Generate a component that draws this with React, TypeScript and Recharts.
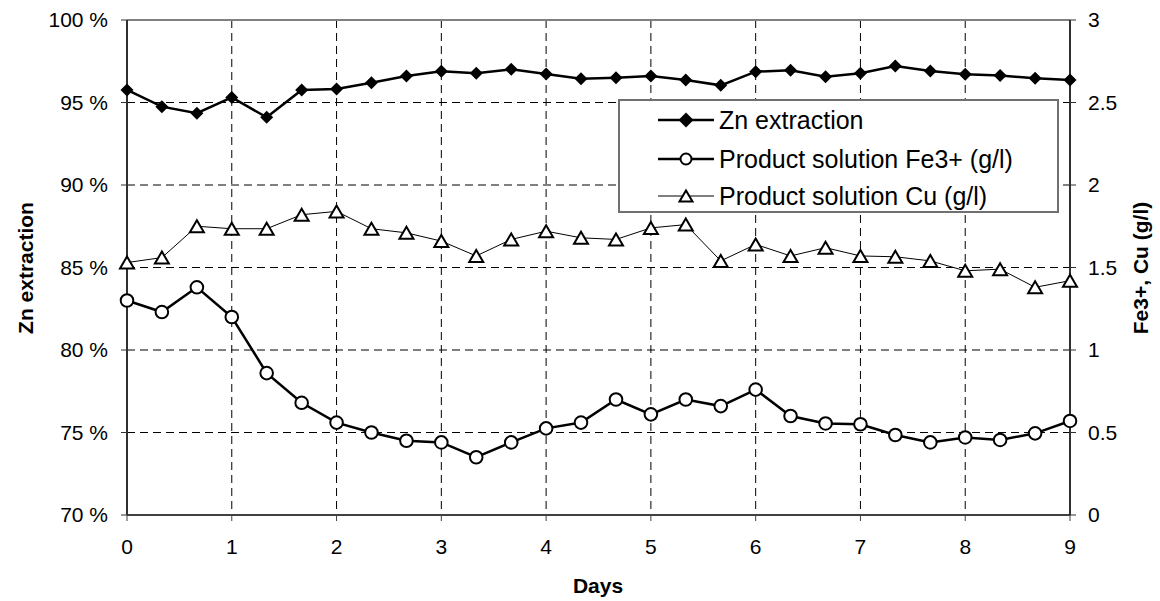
import React from "react";
import { LineChart, Line, XAxis, YAxis, CartesianGrid, Legend, ReferenceLine } from "recharts";

// sampling days (every 8 h)
const days = [
  0, 0.333, 0.667, 1, 1.333, 1.667, 2, 2.333, 2.667, 3,
  3.333, 3.667, 4, 4.333, 4.667, 5, 5.333, 5.667, 6,
  6.333, 6.667, 7, 7.333, 7.667, 8, 8.333, 8.667, 9,
];

// Zn extraction (%)
const znExtraction = [
  95.76, 94.75, 94.35, 95.31, 94.1, 95.76, 95.82, 96.2, 96.6, 96.89,
  96.77, 97.01, 96.73, 96.44, 96.5, 96.6, 96.36, 96.04, 96.87,
  96.95, 96.56, 96.77, 97.21, 96.91, 96.71, 96.63, 96.47, 96.36,
];

// product solution Fe3+ (g/l)
const fe3 = [
  1.3, 1.23, 1.38, 1.2, 0.86, 0.68, 0.56, 0.5, 0.45, 0.44,
  0.35, 0.44, 0.525, 0.56, 0.7, 0.61, 0.7, 0.66, 0.76,
  0.6, 0.555, 0.55, 0.485, 0.44, 0.47, 0.455, 0.495, 0.57,
];

// product solution Cu (g/l)
const cu = [
  1.53, 1.56, 1.75, 1.735, 1.735, 1.82, 1.84, 1.735, 1.71, 1.66,
  1.57, 1.67, 1.72, 1.68, 1.67, 1.74, 1.76, 1.54, 1.64,
  1.57, 1.62, 1.57, 1.565, 1.54, 1.48, 1.49, 1.38, 1.42,
];

const dayTicks = [0, 1, 2, 3, 4, 5, 6, 7, 8, 9];
const znTicks = [70, 75, 80, 85, 90, 95, 100];
const gplTicks = [0, 0.5, 1, 1.5, 2, 2.5, 3];

const seriesNames = {
  zn: "Zn extraction",
  fe: "Product solution Fe3+ (g/l)",
  cu: "Product solution Cu (g/l)",
};
const legendOrder = ["zn", "fe", "cu"];

const data = days.map((day, i) => ({ day, zn: znExtraction[i], fe: fe3[i], cu: cu[i] }));

const FONT = "'Liberation Sans', Arial, sans-serif";
const tickStyle = { fill: "#000", fontSize: 21, fontFamily: FONT };

function diamondPath(cx: number, cy: number, r: number) {
  return `M${cx},${cy - r}L${cx + r},${cy}L${cx},${cy + r}L${cx - r},${cy}Z`;
}
function trianglePoints(cx: number, cy: number, w: number, h: number) {
  return `${cx},${cy - h / 2} ${cx + w / 2},${cy + h / 2} ${cx - w / 2},${cy + h / 2}`;
}

const DiamondDot = (p: any) => {
  if (p.cx == null || p.cy == null) return null;
  return <path key={`zn-${p.index}`} d={diamondPath(p.cx, p.cy, 6.5)} fill="#000" />;
};
const CircleDot = (p: any) => {
  if (p.cx == null || p.cy == null) return null;
  return <circle key={`fe-${p.index}`} cx={p.cx} cy={p.cy} r={6.3} fill="#fff" stroke="#000" strokeWidth={2} />;
};
const TriangleDot = (p: any) => {
  if (p.cx == null || p.cy == null) return null;
  return (
    <polygon key={`cu-${p.index}`} points={trianglePoints(p.cx, p.cy, 14, 12)}
      fill="#fff" stroke="#000" strokeWidth={2} strokeLinejoin="miter" />
  );
};

// fixed-position axis title (prop names chosen so Recharts' Label props don't clash)
const AxisTitle = (p: any) => (
  <text x={p.px} y={p.py} transform={p.rot ? `rotate(${p.rot} ${p.px} ${p.py})` : undefined}
    textAnchor="middle" dominantBaseline="central"
    style={{ fontFamily: FONT, fontSize: 21, fontWeight: "bold", fill: "#000" }}>
    {p.text}
  </text>
);

function LegendSample({ kind }: { kind: string }) {
  return (
    <svg width={56} height={24} style={{ display: "block" }}>
      <line x1={0} y1={12} x2={56} y2={12} stroke="#000" strokeWidth={kind === "cu" ? 1 : 2.5} />
      {kind === "zn" && <path d={diamondPath(28, 12, 7.5)} fill="#000" />}
      {kind === "fe" && <circle cx={28} cy={12} r={5.5} fill="#fff" stroke="#000" strokeWidth={2} />}
      {kind === "cu" && <polygon points={trianglePoints(28, 12, 13, 11)} fill="#fff" stroke="#000" strokeWidth={2} />}
    </svg>
  );
}

const LegendBox = (props: any) => {
  const payload: any[] = props.payload || [];
  const rows = legendOrder
    .map((key) => payload.find((e) => e.dataKey === key))
    .filter(Boolean);
  return (
    <div style={{
      position: "relative", width: 441, height: 114, boxSizing: "border-box",
      border: "2px solid #707070", background: "#fff", fontFamily: FONT, fontSize: 25,
    }}>
      {rows.map((entry, i) => (
        <div key={entry.dataKey} style={{
          position: "absolute", left: 38, top: [1, 40, 77][i], height: 36,
          display: "flex", alignItems: "center", whiteSpace: "nowrap", color: "#000",
        }}>
          <LegendSample kind={entry.dataKey} />
          <span style={{ marginLeft: 5 }}>{entry.value}</span>
        </div>
      ))}
    </div>
  );
};

export default function App() {
  return (
    <div style={{ position: "absolute", left: 0, top: 0, width: 1160, height: 601, background: "#fff" }}>
      <LineChart width={1160} height={601} data={data} margin={{ top: 20, right: 0, bottom: 0, left: 0 }}>
        <CartesianGrid yAxisId="left" stroke="#000" strokeWidth={1} strokeDasharray="8 5"
          horizontalValues={znTicks} verticalValues={dayTicks} />
        <ReferenceLine yAxisId="left" y={100} stroke="#808080" strokeWidth={2} />
        <XAxis dataKey="day" type="number" domain={[0, 9]} ticks={dayTicks} height={86}
          tick={tickStyle} tickSize={6} tickMargin={18}
          axisLine={{ stroke: "#404040", strokeWidth: 2 }} tickLine={{ stroke: "#404040" }}
          label={<AxisTitle px={598} py={585} text="Days" />} />
        <YAxis yAxisId="left" domain={[70, 100]} ticks={znTicks} width={127}
          tickFormatter={(v: number) => `${v} %`} tick={tickStyle} tickSize={6} tickMargin={13}
          axisLine={{ stroke: "#303030", strokeWidth: 2 }} tickLine={{ stroke: "#303030" }}
          label={<AxisTitle px={25} py={268} rot={-90} text="Zn extraction" />} />
        <YAxis yAxisId="right" orientation="right" domain={[0, 3]} ticks={gplTicks} width={90}
          tick={tickStyle} tickSize={6} tickMargin={12}
          axisLine={{ stroke: "#303030", strokeWidth: 2 }} tickLine={{ stroke: "#303030" }}
          label={<AxisTitle px={1140} py={268} rot={-90} text="Fe3+, Cu (g/l)" />} />
        <Line yAxisId="left" dataKey="zn" name={seriesNames.zn} type="linear" stroke="#000"
          strokeWidth={2.5} dot={DiamondDot} activeDot={false} isAnimationActive={false} />
        <Line yAxisId="right" dataKey="fe" name={seriesNames.fe} type="linear" stroke="#000"
          strokeWidth={2.5} dot={CircleDot} activeDot={false} isAnimationActive={false} />
        <Line yAxisId="right" dataKey="cu" name={seriesNames.cu} type="linear" stroke="#000"
          strokeWidth={1} dot={TriangleDot} activeDot={false} isAnimationActive={false} />
        <Legend layout="vertical" align="center" verticalAlign="middle" content={LegendBox}
          wrapperStyle={{ left: 618, top: 99, width: 441, height: 114 }} />
      </LineChart>
    </div>
  );
}
